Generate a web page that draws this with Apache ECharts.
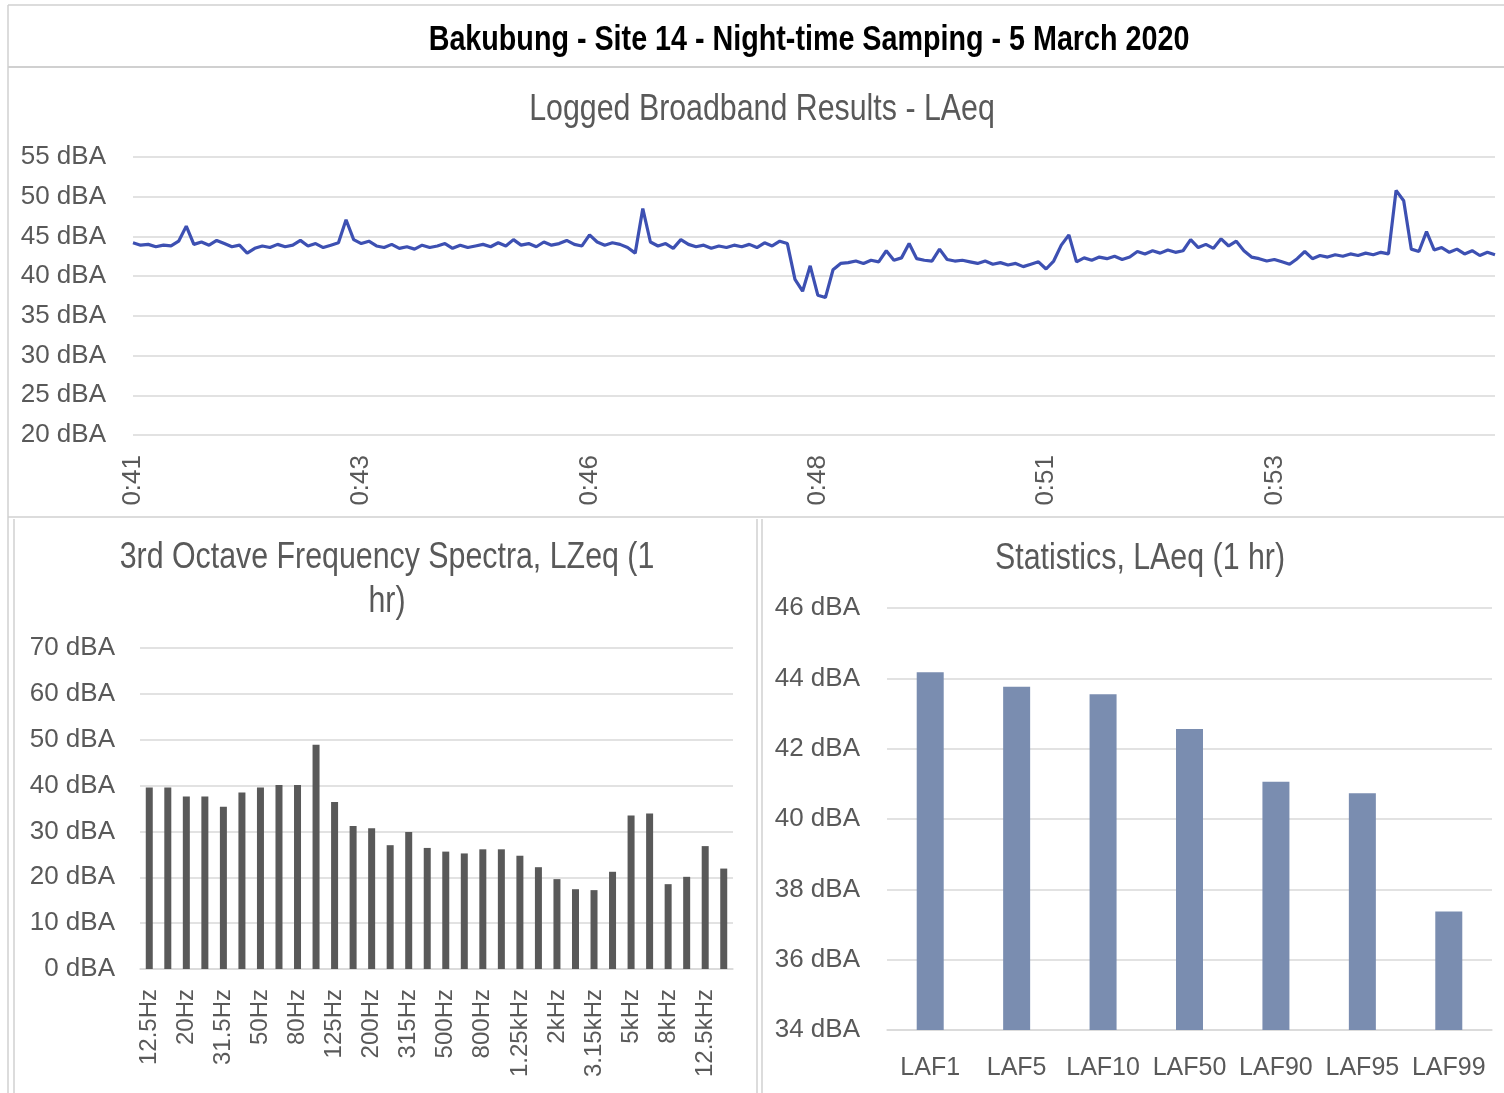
<!DOCTYPE html>
<html>
<head>
<meta charset="utf-8">
<script src="https://cdn.jsdelivr.net/npm/echarts@6/dist/echarts.min.js"></script>
<style>
  html, body { margin: 0; padding: 0; background: #ffffff; }
  #chart { width: 1504px; height: 1093px; }
</style>
</head>
<body>
<div id="chart"></div>
<script>
// ---- Logged broadband LAeq, 5-second samples starting 0:41:00 ----
const logStart = '0:41:00';
const logStepSeconds = 5;
const laeqLog = [
  44.2, 43.9, 44.0, 43.7, 43.9, 43.8, 44.4, 46.3, 44.0, 44.3,
  43.9, 44.5, 44.1, 43.7, 43.9, 42.9, 43.5, 43.8, 43.6, 44.0,
  43.7, 43.9, 44.5, 43.8, 44.1, 43.6, 43.9, 44.2, 47.1, 44.6,
  44.1, 44.4, 43.8, 43.6, 44.0, 43.5, 43.7, 43.4, 43.9, 43.6,
  43.8, 44.1, 43.5, 43.9, 43.6, 43.8, 44.0, 43.7, 44.2, 43.8,
  44.6, 43.9, 44.1, 43.7, 44.3, 43.9, 44.1, 44.5, 44.0, 43.8,
  45.2, 44.3, 43.9, 44.2, 44.0, 43.6, 42.9, 48.5, 44.3, 43.8,
  44.1, 43.5, 44.6, 44.0, 43.7, 43.9, 43.5, 43.8, 43.6, 43.9,
  43.7, 44.0, 43.6, 44.2, 43.8, 44.4, 44.1, 39.6, 38.1, 41.3,
  37.6, 37.3, 40.8, 41.6, 41.7, 41.9, 41.6, 42.0, 41.8, 43.2,
  42.0, 42.3, 44.1, 42.2, 42.0, 41.9, 43.4, 42.1, 41.9, 42.0,
  41.8, 41.6, 41.9, 41.5, 41.7, 41.4, 41.6, 41.2, 41.5, 41.8,
  40.9, 41.9, 43.9, 45.2, 41.8, 42.3, 42.0, 42.4, 42.2, 42.5,
  42.1, 42.4, 43.1, 42.8, 43.2, 42.9, 43.3, 43.0, 43.2, 44.6,
  43.6, 44.0, 43.5, 44.7, 43.8, 44.4, 43.2, 42.4, 42.2, 41.9,
  42.1, 41.8, 41.5, 42.2, 43.1, 42.2, 42.6, 42.4, 42.7, 42.5,
  42.8, 42.6, 42.9, 42.7, 43.0, 42.8, 50.8, 49.5, 43.4, 43.1,
  45.6, 43.3, 43.6, 43.0, 43.4, 42.8, 43.2, 42.6, 43.0, 42.7
];
const logTicks = [20, 55, 5];   // min, max, step (dBA)

// ---- 1/3 octave spectrum, LZeq (1 hr) ----
const bands = [
  '12.5Hz', '16Hz', '20Hz', '25Hz', '31.5Hz', '40Hz', '50Hz', '63Hz',
  '80Hz', '100Hz', '125Hz', '160Hz', '200Hz', '250Hz', '315Hz', '400Hz',
  '500Hz', '630Hz', '800Hz', '1kHz', '1.25kHz', '1.6kHz', '2kHz', '2.5kHz',
  '3.15kHz', '4kHz', '5kHz', '6.3kHz', '8kHz', '10kHz', '12.5kHz', '16kHz'
];
const lzeq = [
  39.6, 39.6, 37.6, 37.6, 35.4, 38.5, 39.6, 40.1,
  40.1, 48.9, 36.4, 31.2, 30.7, 27.0, 29.9, 26.4,
  25.6, 25.2, 26.1, 26.1, 24.7, 22.2, 19.6, 17.4,
  17.2, 21.2, 33.5, 33.9, 18.5, 20.1, 26.8, 21.9
];
const spectrumTicks = [0, 70, 10];

// ---- Statistical levels, LAeq (1 hr) ----
const statNames = ['LAF1', 'LAF5', 'LAF10', 'LAF50', 'LAF90', 'LAF95', 'LAF99'];
const statValues = [44.17, 43.76, 43.55, 42.56, 41.06, 40.73, 37.37];
const statTicks = [34, 46, 2];

// ---- Headings ----
const mainTitle = 'Bakubung - Site 14 - Night-time Samping - 5 March 2020';
const logTitle = 'Logged Broadband Results - LAeq';
const spectrumTitle = '3rd Octave Frequency Spectra, LZeq (1\nhr)';
const statTitle = 'Statistics, LAeq (1 hr)';

// Build h:mm:ss category labels for the log
function buildTimes(start, step, count) {
  const p = start.split(':').map(Number);
  let t = p[0] * 3600 + p[1] * 60 + p[2];
  const out = [];
  for (let i = 0; i < count; i++, t += step) {
    const h = Math.floor(t / 3600), m = Math.floor((t % 3600) / 60), s = t % 60;
    out.push(h + ':' + String(m).padStart(2, '0') + ':' + String(s).padStart(2, '0'));
  }
  return out;
}
const logTimes = buildTimes(logStart, logStepSeconds, laeqLog.length);

const FONT = "'Liberation Sans', Arial, sans-serif";
const TXT = '#595959';
const GRID = '#d9d9d9';
const BORDER = '#d0d0d0';
const NARROW = 0.82;   // horizontal squeeze for the condensed headings

const yAxisCommon = (ticks, margin) => ({
  type: 'value',
  min: ticks[0], max: ticks[1], interval: ticks[2],
  axisLine: { show: false },
  axisTick: { show: false },
  splitLine: { lineStyle: { color: GRID, width: 1.5 } },
  axisLabel: { formatter: '{value} dBA', color: TXT, fontFamily: FONT, fontSize: 26, margin: margin }
});

// Condensed heading text drawn as a graphic element
function heading(text, x, y, size, weight, color, lineHeight) {
  return {
    type: 'text', x: x, y: y, scaleX: NARROW, scaleY: 1,
    style: {
      x: 0, y: 0, text: text, fill: color,
      fontFamily: FONT, fontSize: size, fontWeight: weight,
      lineHeight: lineHeight || Math.round(size * 1.2),
      align: 'center', verticalAlign: 'middle'
    },
    z: 10
  };
}

const chart = echarts.init(document.getElementById('chart'), null, { renderer: 'canvas' });

chart.setOption({
  animation: false,
  backgroundColor: '#ffffff',
  graphic: [
    // panel frames
    { type: 'line', shape: { x1: 8, y1: 5, x2: 1504, y2: 5 }, style: { stroke: BORDER, lineWidth: 1.5 } },
    { type: 'line', shape: { x1: 8, y1: 5, x2: 8, y2: 1093 }, style: { stroke: BORDER, lineWidth: 1.5 } },
    { type: 'line', shape: { x1: 8, y1: 67, x2: 1504, y2: 67 }, style: { stroke: BORDER, lineWidth: 2 } },
    { type: 'line', shape: { x1: 8, y1: 517, x2: 1504, y2: 517 }, style: { stroke: BORDER, lineWidth: 1.5 } },
    { type: 'line', shape: { x1: 14, y1: 519, x2: 14, y2: 1093 }, style: { stroke: BORDER, lineWidth: 1.5 } },
    { type: 'line', shape: { x1: 757, y1: 519, x2: 757, y2: 1093 }, style: { stroke: BORDER, lineWidth: 1.5 } },
    { type: 'line', shape: { x1: 762, y1: 519, x2: 762, y2: 1093 }, style: { stroke: BORDER, lineWidth: 1.5 } },
    // headings
    heading(mainTitle, 809, 40, 35, 'bold', '#000000'),
    heading(logTitle, 762, 110, 37, 'normal', TXT),
    heading(spectrumTitle, 387, 580, 37, 'normal', TXT, 44),
    heading(statTitle, 1140, 559, 37, 'normal', TXT)
  ],
  grid: [
    { left: 133, right: 9, top: 157, bottom: 658 },
    { left: 140, right: 771, top: 648, bottom: 124 },
    { left: 887, right: 12, top: 608, bottom: 63 }
  ],
  xAxis: [
    {
      gridIndex: 0, type: 'category', data: logTimes, boundaryGap: false,
      axisLine: { show: false }, axisTick: { show: false },
      axisLabel: {
        interval: 29, rotate: 90, color: TXT, fontFamily: FONT, fontSize: 26, margin: 20,
        formatter: v => v.slice(0, v.lastIndexOf(':'))
      }
    },
    {
      gridIndex: 1, type: 'category', data: bands,
      axisLine: { lineStyle: { color: GRID, width: 1.5 } }, axisTick: { show: false },
      axisLabel: { interval: 1, rotate: 90, color: TXT, fontFamily: FONT, fontSize: 24, margin: 20 }
    },
    {
      gridIndex: 2, type: 'category', data: statNames,
      axisLine: { lineStyle: { color: GRID, width: 1.5 } }, axisTick: { show: false },
      axisLabel: { interval: 0, color: TXT, fontFamily: FONT, fontSize: 25, margin: 26 }
    }
  ],
  yAxis: [
    Object.assign({ gridIndex: 0 }, yAxisCommon(logTicks, 27)),
    Object.assign({ gridIndex: 1 }, yAxisCommon(spectrumTicks, 25)),
    Object.assign({ gridIndex: 2 }, yAxisCommon(statTicks, 27))
  ],
  series: [
    {
      type: 'line', xAxisIndex: 0, yAxisIndex: 0, data: laeqLog,
      showSymbol: false, lineStyle: { color: '#3d50b2', width: 3.2 }
    },
    {
      type: 'bar', xAxisIndex: 1, yAxisIndex: 1, data: lzeq,
      barWidth: 7, itemStyle: { color: '#595959' }
    },
    {
      type: 'bar', xAxisIndex: 2, yAxisIndex: 2, data: statValues,
      barWidth: 27, itemStyle: { color: '#7a8db0' }
    }
  ]
});
</script>
</body>
</html>
